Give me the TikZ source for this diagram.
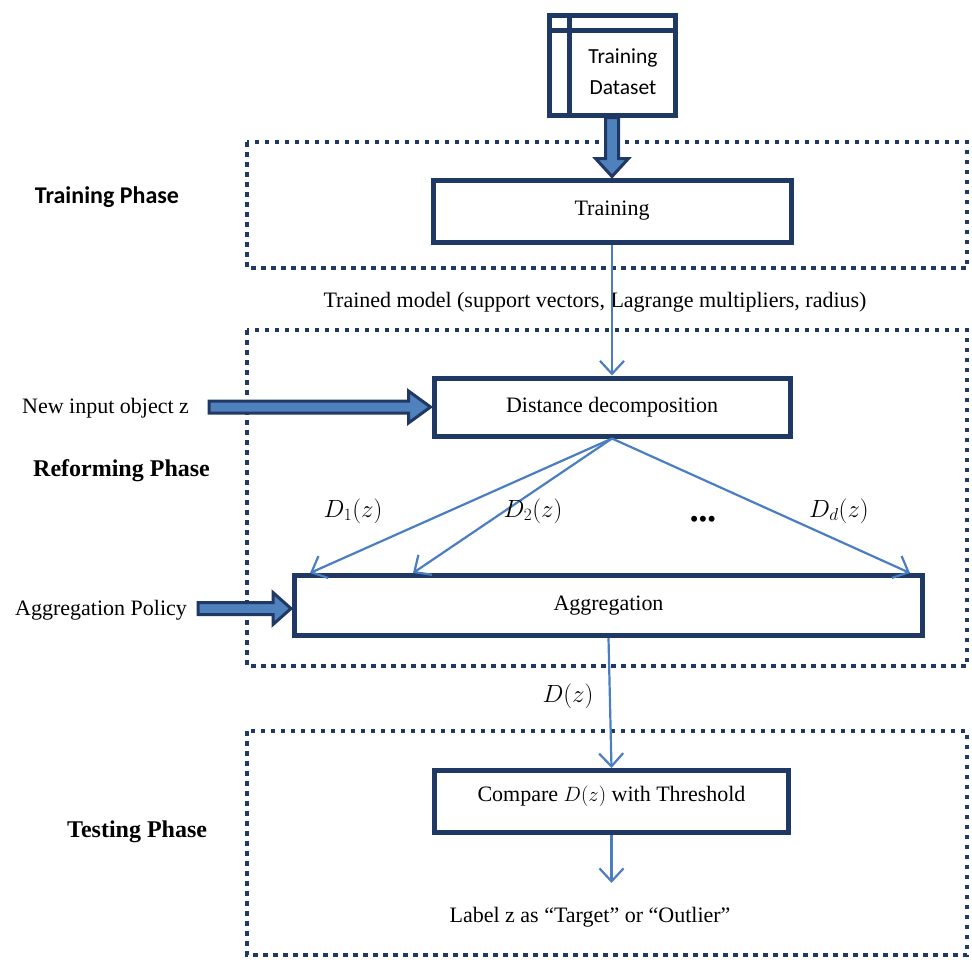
\documentclass[tikz,border=0pt]{standalone}
\usepackage{fontspec}
\setmainfont{Liberation Serif}
\newfontfamily\calib{Carlito}
\usetikzlibrary{arrows.meta,calc}
\definecolor{navy}{RGB}{31,56,100}
\definecolor{lblue}{RGB}{74,126,192}
\definecolor{fblue}{RGB}{79,129,189}
\begin{document}
\begin{tikzpicture}[x=1pt,y=-1pt,
  box/.style={draw=navy,line width=5pt,fill=white,inner sep=0pt,
    font=\fontsize{22}{26}\selectfont},
  phasebox/.style={draw=navy,line width=4.5pt,dash pattern=on 4.5pt off 5.5pt},
  thinarrow/.style={draw=lblue,line width=2.2pt,
    -{Straight Barb[length=13pt,width=24pt,line width=2.2pt]}},
  fat/.style={draw=navy,line width=3pt,fill=fblue,line join=miter},
  txt/.style={font=\fontsize{22}{26}\selectfont,inner sep=0pt},
  mathtxt/.style={font=\fontsize{23}{26}\selectfont,inner sep=0pt},
  phasesans/.style={font=\calib\bfseries\fontsize{24}{28}\selectfont,inner sep=0pt},
  phaseserif/.style={font=\bfseries\fontsize{24}{28}\selectfont,inner sep=0pt}]
\useasboundingbox (0,0) rectangle (972,959);

% phase frames
\draw[phasebox] (247,142) rectangle (967,268);
\draw[phasebox] (247,330) rectangle (967,666);
\draw[phasebox] (247,731) rectangle (967,955);

% dataset icon
\node[draw=navy,line width=5pt,fill=white,minimum width=126pt,minimum height=100pt,inner sep=0pt] (ds) at (612,65) {};
\draw[navy,line width=5pt] ($(ds.north west)+(23,0)$) -- ($(ds.south west)+(23,0)$);
\draw[navy,line width=5pt] ($(ds.north west)+(0,18)$) -- ($(ds.north east)+(0,18)$);
\node[font=\calib\fontsize{21.5}{31}\selectfont,align=center,inner sep=0pt] (dstext) at (623,72) {Training\\Dataset};

% boxes
\node[box,minimum width=358pt,minimum height=62pt] (train) at (612,211) {Training};
\node[box,minimum width=356pt,minimum height=58pt] (dd) at (612,407) {Distance decomposition};
\node[box,minimum width=628pt,minimum height=60pt] (agg) at (608.5,605.5) {Aggregation};
\node[box,minimum width=354pt,minimum height=62pt] (cmp) at (611.5,801.5) {};
\node[txt] (cmptext) at ($(cmp.center)+(0,-5)$) {Compare $D(z)$ with Threshold};

% phase labels
\node[phasesans] (tp) at (107,197) {Training Phase};
\node[phaseserif,anchor=west] (rp) at (33,471) {Reforming Phase};
\node[phaseserif,anchor=west] (sp) at (67,832) {Testing Phase};

% inputs
\node[txt,anchor=west] (newin) at (22,408) {New input object z};
\node[txt,anchor=west] (policy) at (15,610) {Aggregation Policy};
\node[txt] (model) at (595,302) {Trained model (support vectors, Lagrange multipliers, radius)};
\node[txt] (result) at (590,917) {Label z as “Target” or “Outlier”};

% fat arrows
\coordinate (dsS) at (ds.south);
\coordinate (trN) at ($(train.north)+(0,-1)$);
\draw[fat] ($(dsS)+(-6.5,0)$) -- ($(trN)+(-6.5,-18)$) -- ($(trN)+(-16.5,-18)$) -- (trN)
  -- ($(trN)+(16.5,-18)$) -- ($(trN)+(6.5,-18)$) -- ($(dsS)+(6.5,0)$) -- cycle;

\coordinate (niS) at (209,407);
\coordinate (niT) at ($(dd.west)+(-1,0)$);
\draw[fat] ($(niS)+(0,-6)$) -- ($(niT)+(-22,-6)$) -- ($(niT)+(-22,-16)$) -- (niT)
  -- ($(niT)+(-22,16)$) -- ($(niT)+(-22,6)$) -- ($(niS)+(0,6)$) -- cycle;

\coordinate (apT) at ($(agg.west)+(-1,3)$);
\coordinate (apS) at ($(apT)+(-93,0)$);
\draw[fat] ($(apS)+(0,-6)$) -- ($(apT)+(-18,-6)$) -- ($(apT)+(-18,-16)$) -- (apT)
  -- ($(apT)+(-18,16)$) -- ($(apT)+(-18,6)$) -- ($(apS)+(0,6)$) -- cycle;

% thin arrows
\draw[thinarrow] (train.south) -- (dd.north);
\coordinate (t1) at ($(agg.north west)+(18,0)$);
\coordinate (t2) at ($(agg.north west)+(121,0)$);
\coordinate (t3) at ($(agg.north east)+(-15,0)$);
\draw[thinarrow] (dd.south) -- (t1);
\draw[thinarrow] (dd.south) -- (t2);
\draw[thinarrow] (dd.south) -- (t3);
\draw[thinarrow] (agg.south) -- (cmp.north);
\coordinate (resT) at ($(cmp.south)+(0,48)$);
\draw[thinarrow] (cmp.south) -- (resT);

% math labels
\node[mathtxt] (l1) at (353,511) {$D_1(z)$};
\node[mathtxt] (l2) at (533,511) {$D_2(z)$};
\node[font=\fontsize{25}{28}\selectfont,inner sep=0pt] (l3) at (703,522) {\textbullet\textbullet\textbullet};
\node[mathtxt] (l4) at (839,511) {$D_d(z)$};
\node[mathtxt] (l5) at (568,696) {$D(z)$};
\end{tikzpicture}
\end{document}
